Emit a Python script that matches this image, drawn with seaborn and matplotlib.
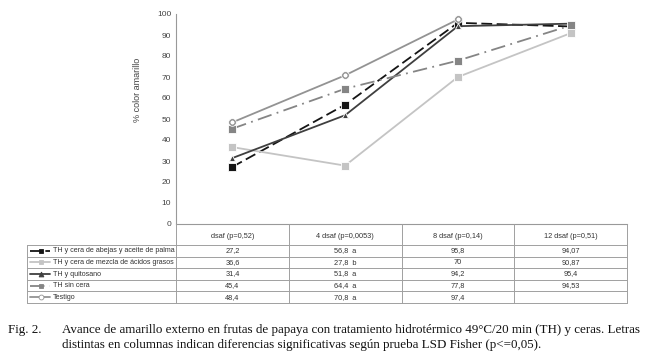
import pandas as pd
import numpy as np
import matplotlib
matplotlib.use("Agg")
import matplotlib.pyplot as plt
import seaborn as sns

# data
dias = ["dsaf (p=0,52)", "4 dsaf (p=0,0053)", "8 dsaf (p=0,14)", "12 dsaf (p=0,51)"]
tratamientos = ["TH y cera de abejas y aceite de palma",
                "TH y cera de mezcla de ácidos grasos",
                "TH y quitosano",
                "TH sin cera",
                "Testigo"]
abejas = [27.2, 56.8, 95.8, 94.07]
mezcla = [36.6, 27.8, 70, 90.87]
quitosano = [31.4, 51.8, 94.2, 95.4]
sin_cera = [45.4, 64.4, 77.8, 94.53]
testigo = [48.4, 70.8, 97.4, np.nan]
textos = [["27,2", "56,8  a", "95,8", "94,07"],
          ["36,6", "27,8  b", "70", "90,87"],
          ["31,4", "51,8  a", "94,2", "95,4"],
          ["45,4", "64,4  a", "77,8", "94,53"],
          ["48,4", "70,8  a", "97,4", ""]]

series = [abejas, mezcla, quitosano, sin_cera, testigo]
rows = []
for nombre, vals in zip(tratamientos, series):
    for i, v in enumerate(vals):
        rows.append({"trat": nombre, "x": i, "y": v})
df = pd.DataFrame(rows)

colores = {tratamientos[0]: "#151515", tratamientos[1]: "#c4c4c4",
           tratamientos[2]: "#3f3f3f", tratamientos[3]: "#858585",
           tratamientos[4]: "#939393"}
marcas = {tratamientos[0]: "s", tratamientos[1]: "s", tratamientos[2]: "^",
          tratamientos[3]: "s", tratamientos[4]: "o"}
guiones = {tratamientos[0]: (6, 2.5), tratamientos[1]: "",
           tratamientos[2]: "", tratamientos[3]: (8, 3, 1, 3),
           tratamientos[4]: ""}

sns.set_style("white")
plt.rcParams["font.family"] = ["Liberation Sans", "DejaVu Sans"]

W, H = 647, 361
fig = plt.figure(figsize=(W / 100, H / 100), dpi=100)

x0, x1, ytop, ybot = 176, 627, 14, 224
ax = fig.add_axes([x0 / W, 1 - ybot / H, (x1 - x0) / W, (ybot - ytop) / H])
sns.lineplot(data=df, x="x", y="y", hue="trat", style="trat", palette=colores,
             markers=marcas, dashes=guiones, linewidth=1.3, markersize=5.5,
             markeredgewidth=0.6, ax=ax, legend=False)
for line in ax.lines:
    if line.get_marker() == "^":
        line.set_markersize(4)
# testigo gets open circles, drawn on top
t = df[df["trat"] == "Testigo"]
sns.scatterplot(data=t, x="x", y="y", marker="o", s=14, facecolor="white",
                edgecolor=colores["Testigo"], linewidth=0.8, ax=ax, legend=False,
                zorder=5)

ax.set_xlim(-0.5, 3.5)
ax.set_ylim(0, 100)
ax.set_yticks(range(0, 101, 10))
ax.tick_params(axis="y", labelsize=6, colors="#444444", length=0, pad=3.5)
ax.set_xticks([])
ax.set_xlabel("")
ax.set_ylabel("")
for s in ["top", "right"]:
    ax.spines[s].set_visible(False)
for s in ["left", "bottom"]:
    ax.spines[s].set_color("#999999")
    ax.spines[s].set_linewidth(0.8)
fig.text(137 / W, 1 - 90 / H, "% color amarillo", rotation=90, ha="center",
         va="center", fontsize=6.5, color="#444444")

# table under the chart
tax = fig.add_axes([0, 0, 1, 1])
tax.set_xlim(0, W)
tax.set_ylim(H, 0)
tax.axis("off")
tax.patch.set_alpha(0)

gris = "#a0a0a0"
lx0 = 27
row_y = [245, 256.6, 268.2, 279.8, 291.4, 303]
col_x = [x0 + (x1 - x0) * k / 4 for k in range(5)]
for y in row_y:
    tax.plot([lx0, x1], [y, y], color=gris, lw=0.7)
for cx in col_x:
    tax.plot([cx, cx], [ybot, row_y[-1]], color=gris, lw=0.7)
tax.plot([lx0, lx0], [row_y[0], row_y[-1]], color=gris, lw=0.7)

for k, d in enumerate(dias):
    cx = (col_x[k] + col_x[k + 1]) / 2
    tax.text(cx, 236, d, ha="center", va="center", fontsize=5.3, color="#333333")

for r, nombre in enumerate(tratamientos):
    yc = (row_y[r] + row_y[r + 1]) / 2
    c = colores[nombre]
    ls = (0, guiones[nombre]) if guiones[nombre] else "-"
    tax.plot([30, 50], [yc, yc], color=c, lw=1.3, linestyle=ls)
    mfc = "white" if marcas[nombre] == "o" else c
    tax.plot([41], [yc], marker=marcas[nombre], color=c, mfc=mfc, ms=3.5, mew=0.6)
    tax.text(53, yc, nombre, ha="left", va="center", fontsize=5.1,
             color="#333333")
    for k in range(4):
        cx = (col_x[k] + col_x[k + 1]) / 2
        tax.text(cx, yc, textos[r][k], ha="center", va="center", fontsize=5.3,
                 color="#333333")

# caption
cap = dict(ha="left", va="center", fontsize=9.35, family="Liberation Serif",
           color="#111111")
tax.text(8, 330, "Fig. 2.", **cap)
tax.text(62, 330, "Avance de amarillo externo en frutas de papaya con tratamiento "
         "hidrotérmico 49°C/20 min (TH) y ceras. Letras", **cap)
tax.text(62, 345, "distintas en columnas indican diferencias significativas según "
         "prueba LSD Fisher (p<=0,05).", **cap)

fig.savefig("out.png", dpi=100)
